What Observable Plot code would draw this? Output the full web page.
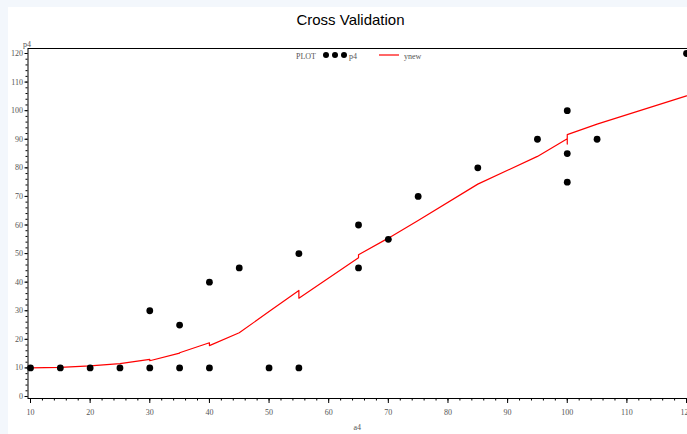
<!DOCTYPE html>
<html><head><meta charset="utf-8">
<script src="https://cdn.jsdelivr.net/npm/d3@7"></script>
<script src="https://cdn.jsdelivr.net/npm/@observablehq/plot@0.6"></script>
<style>
html,body{margin:0;padding:0;width:687px;height:434px;overflow:hidden;background:#f3f7fc;}
#panel{position:absolute;left:8px;top:7px;width:679px;height:427px;background:#fff;}
#title{position:absolute;left:7px;top:11px;width:687px;text-align:center;font:15px "Liberation Sans",Arial,sans-serif;color:#000;}
#chart{position:absolute;left:0;top:30px;width:700px;height:404px;}
#chart svg{max-width:none !important;}
#legend{position:absolute;left:0;top:0;}
</style></head><body>
<div id="panel"></div>
<div id="title">Cross Validation</div>
<div id="chart"></div>
<svg id="legend" width="687" height="70"></svg>
<script>
// observed points
const a4 = [10,15,20,25,30,30,35,35,40,40,45,50,55,55,65,65,70,75,85,95,100,100,100,105,120];
const p4 = [10,10,10,10,10,30,10,25,10,40,45,10,10,50,60,45,55,70,80,90,100,85,75,90,120];
// cross-validated predictions (sorted by a4)
const lineA4 = [10,15,20,25,30,30,35,35,40,40,45,50,55,55,65,65,70,75,85,95,100,100,100,105,120];
const ynew  = [10.0,10.2,10.7,11.5,13.0,12.5,15.2,15.3,18.8,17.8,22.3,29.7,37.1,34.4,48.5,49.6,55.4,61.6,74.3,84.0,90.2,88.3,91.6,95.3,105.2];
// ticks
const xTicks = [10,20,30,40,50,60,70,80,90,100,110,120];
const yTicks = [0,10,20,30,40,50,60,70,80,90,100,110,120];
const xMinor = d3.range(10,121,2);
const yMinor = d3.range(0,121,2);
const xLabel = "a4", yLabel = "p4";

const points = a4.map((a,i)=>({a4:a, p4:p4[i]}));
const curve = lineA4.map((a,i)=>({a4:a, ynew:ynew[i]}));

const font = "'Liberation Serif', 'Times New Roman', serif";
const plot = Plot.plot({
  width: 700, height: 404,
  marginLeft: 27.5, marginRight: 8, marginTop: 18, marginBottom: 36,
  style: {background: "transparent", overflow: "visible", fontFamily: font, fontSize: "8px", maxWidth: "none"},
  x: {domain: [9.58, 121], axis: null},
  y: {domain: [-0.7, 121.75], axis: null},
  marks: [
    Plot.axisX({ticks: xMinor, tickSize: 2.5, tickFormat: () => "", stroke: "black", label: null}),
    Plot.axisX({ticks: xTicks, tickSize: 5, tickPadding: 6, stroke: "black", fill: "#555", fontFamily: font, fontSize: 8, label: null}),
    Plot.axisY({ticks: yMinor, tickSize: 2, tickFormat: () => "", stroke: "black", label: null}),
    Plot.axisY({ticks: yTicks, tickSize: 3, tickPadding: 2, stroke: "black", fill: "#555", fontFamily: font, fontSize: 8, label: null}),
    Plot.frame({stroke: "black", strokeWidth: 1}),
    Plot.text([xLabel], {frameAnchor: "bottom", dx: -3, dy: 31, fill: "#555", fontFamily: font, fontSize: 8}),
    Plot.text([yLabel], {frameAnchor: "top-left", dx: -5, dy: -7, fill: "#555", fontFamily: font, fontSize: 8}),
    Plot.line(curve, {x: "a4", y: "ynew", stroke: "red", strokeWidth: 1.2}),
    Plot.dot(points, {x: "a4", y: "p4", r: 3.4, fill: "black", stroke: "none"})
  ]
});
document.getElementById("chart").appendChild(plot);

// legend
const lg = d3.select("#legend");
const lf = {"font-family": "Liberation Serif, serif", "font-size": "8px", "fill": "#555"};
function txt(x,y,s){ const t = lg.append("text").attr("x",x).attr("y",y).text(s); for (const k in lf) t.attr(k, lf[k]); }
txt(296, 59, "PLOT");
[326,335,344].forEach(cx => lg.append("circle").attr("cx",cx).attr("cy",55).attr("r",3).attr("fill","black"));
txt(349, 59, "p4");
lg.append("line").attr("x1",379).attr("x2",399).attr("y1",55).attr("y2",55).attr("stroke","red").attr("stroke-width",1.2);
txt(404, 59, "ynew");
</script>
</body></html>
